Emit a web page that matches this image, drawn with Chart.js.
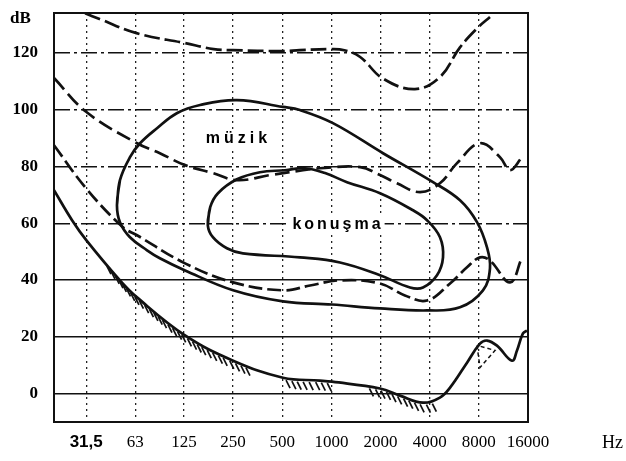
<!DOCTYPE html>
<html lang="tr">
<head>
<meta charset="UTF-8">
<title>İşitme alanı</title>
<script src="https://cdn.jsdelivr.net/npm/chart.js@4.4.1/dist/chart.umd.min.js"></script>
<style>
  html, body { margin: 0; padding: 0; background: #fff; }
  #kutu { width: 626px; height: 461px; }
</style>
</head>
<body>
<div id="kutu"><canvas id="grafik"></canvas></div>
<script>
// eksenler
const frekanslar = [31.5, 63, 125, 250, 500, 1000, 2000, 4000, 8000, 16000];
const frekansEtiketleri = ['31,5', '63', '125', '250', '500', '1000', '2000', '4000', '8000', '16000'];
const seviyeler = [0, 20, 40, 60, 80, 100, 120];

// ağrı eşiği (üstteki kesikli eğri)
const agriHz = [31, 38, 64, 127, 190, 250, 500, 640, 1000, 1200, 1500, 2070, 3250, 4620, 6130, 7900, 9360];
const agriDb = [134, 132, 127, 123.5, 121.4, 121, 120.7, 121, 121.4, 121, 118.6, 111, 107.3, 111.5, 122, 129, 132.7];

// üst eş ses eğrisi (kesikli)
const ustHz = [20, 31.6, 64.5, 89, 127, 188, 264, 421, 670, 851, 1500, 1985, 2520, 3490, 4620, 5880, 8130, 10780, 12420, 14700];
const ustDb = [111.2, 99.2, 88.2, 84.7, 80.5, 77.7, 75.2, 77, 78.7, 79.4, 79.8, 77, 74.1, 71, 74.1, 81.2, 88.2, 83.3, 78.7, 83.3];

// alt eş ses eğrisi (kesikli)
const altHz = [20, 31.6, 52.9, 64.5, 127, 250, 505, 740, 1130, 1985, 2820, 3850, 5330, 6770, 8130, 9360, 12420, 14700];
const altDb = [87.5, 72.2, 58.6, 55.8, 45.9, 39.2, 36.4, 38.1, 39.9, 38.8, 34.6, 32.8, 38.8, 44.5, 48, 46.9, 39.2, 48];

// işitme eşiği (taralı düz eğri)
const esikHz = [20, 25.8, 31.6, 50.7, 64.5, 127, 250, 505, 851, 1009, 1985, 2630, 3640, 4620, 5330, 6770, 8130, 8980, 10330, 12770, 13700, 14900, 15780];
const esikDb = [71.7, 61.1, 54, 39.9, 33.9, 20.5, 11.6, 5.6, 4.6, 4.2, 1.8, -0.7, -3.2, -1.4, 2.1, 10.9, 17.6, 18.7, 16.9, 11.6, 15.2, 21.2, 22.2];

// müzik alanı (kapalı eğri)
const muzikHz = [48.6, 50.7, 58.4, 67.3, 85.5, 113, 157, 264, 505, 642, 1022, 2071, 4192, 6133, 7794, 8976, 9360, 8480, 6133, 3852, 1985, 1009, 505, 250, 127, 89, 74.3, 58.4, 50.7];
const muzikDb = [66.4, 75.2, 83.3, 88.2, 93.5, 98.8, 101.7, 103.4, 101, 99.9, 95.3, 84.7, 74.5, 68.1, 60.4, 51.5, 44.1, 36.4, 30.4, 29.3, 30, 31.4, 32.5, 36.4, 43.4, 47.7, 50.5, 55.1, 60.4];

// konuşma alanı (kapalı eğri)
const konusmaHz = [175, 181, 202, 264, 365, 520, 689, 914, 1246, 1985, 3160, 3852, 4624, 4826, 4433, 3640, 3030, 1985, 1129, 642, 287, 229, 188];
const konusmaDb = [59.3, 65.7, 70.6, 75.5, 78, 78.7, 79.4, 77.7, 74.5, 70.6, 64.6, 61.1, 55.1, 48, 41.7, 37.4, 37.4, 41.7, 46.2, 48, 49.4, 51.2, 55.1];

// 8000 Hz civarındaki küçük taralı üçgen
const ucgenHz = [7794, 8130, 10050, 7794];
const ucgenDb = [17, 9.2, 15.2, 17];

// eşik eğrisinin altındaki taramanın frekans aralıkları
const taramaAraliklari = [[41, 300], [480, 1000], [1650, 4100]];

// alan etiketleri (Hz, dB)
const yazilar = [
  { metin: 'müzik', hz: 262, db: 89.8, aralik: '4px' },
  { metin: 'konuşma', hz: 1067, db: 59.6, aralik: '3px' }
];

function noktalar(hz, db) {
  return hz.map((f, i) => ({ x: f, y: db[i] }));
}

// kapalı eğrilerde başlangıçta kırılma olmasın diye ilk iki nokta sona eklenir
function kapali(hz, db) {
  const p = noktalar(hz, db);
  return p.concat(p.slice(0, 2));
}

const KALEM = '#111';

function egri(data, kesik, kalinlik) {
  return {
    data: data,
    showLine: true,
    borderColor: KALEM,
    borderWidth: kalinlik || 2.7,
    borderDash: kesik || [],
    pointRadius: 0,
    tension: 0.4,
    fill: false
  };
}

const veriSetleri = [
  egri(noktalar(agriHz, agriDb), [16, 5]),
  egri(noktalar(ustHz, ustDb), [15, 6]),
  egri(noktalar(altHz, altDb), [14, 5]),
  egri(noktalar(esikHz, esikDb)),
  egri(kapali(muzikHz, muzikDb)),
  egri(kapali(konusmaHz, konusmaDb)),
  Object.assign(egri(noktalar(ucgenHz, ucgenDb), [4, 3], 1.5), { tension: 0 })
];
const ESIK = 3;

// bezier parçası üzerinde nokta
function bezier(a, b, t) {
  const u = 1 - t;
  const c1x = a.cp2x !== undefined ? a.cp2x : a.x, c1y = a.cp2y !== undefined ? a.cp2y : a.y;
  const c2x = b.cp1x !== undefined ? b.cp1x : b.x, c2y = b.cp1y !== undefined ? b.cp1y : b.y;
  return {
    x: u*u*u*a.x + 3*u*u*t*c1x + 3*u*t*t*c2x + t*t*t*b.x,
    y: u*u*u*a.y + 3*u*u*t*c1y + 3*u*t*t*c2y + t*t*t*b.y
  };
}

const taramaEklentisi = {
  id: 'tarama',
  afterDatasetsDraw(chart) {
    const pts = chart.getDatasetMeta(ESIK).data;
    const xs = chart.scales.x;
    const ctx = chart.ctx;
    ctx.save();
    ctx.strokeStyle = KALEM;
    ctx.lineWidth = 1.7;
    let yol = 0, sonraki = 0;
    for (let i = 1; i < pts.length; i++) {
      let onceki = { x: pts[i - 1].x, y: pts[i - 1].y };
      for (let s = 1; s <= 40; s++) {
        const p = bezier(pts[i - 1], pts[i], s / 40);
        yol += Math.hypot(p.x - onceki.x, p.y - onceki.y);
        onceki = p;
        if (yol >= sonraki) {
          sonraki += 6;
          const f = xs.getValueForPixel(p.x);
          if (taramaAraliklari.some(r => f >= r[0] && f <= r[1])) {
            ctx.beginPath();
            ctx.moveTo(p.x + 1, p.y + 2);
            ctx.lineTo(p.x + 5, p.y + 10);
            ctx.stroke();
          }
        }
      }
    }
    ctx.restore();
  }
};

const cerceveEklentisi = {
  id: 'cerceve',
  beforeDatasetsDraw(chart) {
    const a = chart.chartArea;
    const ctx = chart.ctx;
    ctx.save();
    ctx.strokeStyle = KALEM;
    ctx.lineWidth = 2;
    ctx.strokeRect(a.left, a.top, a.right - a.left, a.bottom - a.top);
    ctx.restore();
  },
  afterDraw(chart) {
    const ctx = chart.ctx;
    const a = chart.chartArea;
    ctx.save();
    ctx.fillStyle = '#000';
    ctx.textBaseline = 'middle';
    ctx.font = 'bold 17px "Liberation Serif"';
    ctx.textAlign = 'left';
    ctx.fillText('dB', 10, 19);
    ctx.font = '18px "Liberation Serif"';
    ctx.fillText('Hz', a.right + 74, 443);

    ctx.font = 'bold 16px "Liberation Sans"';
    ctx.textAlign = 'center';
    yazilar.forEach(y => {
      ctx.letterSpacing = y.aralik;
      const x = chart.scales.x.getPixelForValue(y.hz);
      const yy = chart.scales.y.getPixelForValue(y.db);
      const w = ctx.measureText(y.metin).width;
      ctx.fillStyle = '#fff';
      ctx.fillRect(x - w / 2 - 3, yy - 9, w + 6, 18);
      ctx.fillStyle = '#000';
      ctx.fillText(y.metin, x + 2, yy);
    });
    ctx.restore();
  }
};

new Chart(document.getElementById('grafik'), {
  type: 'scatter',
  data: { datasets: veriSetleri },
  options: {
    responsive: true,
    maintainAspectRatio: false,
    animation: false,
    layout: { padding: { top: 13, right: 98, bottom: 0, left: 0 } },
    plugins: { legend: { display: false }, tooltip: { enabled: false } },
    scales: {
      x: {
        type: 'logarithmic',
        min: 20,
        max: 16000,
        afterBuildTicks: (s) => { s.ticks = frekanslar.map(v => ({ value: v })); },
        afterFit: (s) => { s.height = 39; },
        grid: { color: '#222', lineWidth: 1.3, drawTicks: false },
        border: { display: false, dash: [2, 4] },
        ticks: {
          autoSkip: false,
          maxRotation: 0,
          padding: 10,
          color: '#000',
          callback: (v, i) => frekansEtiketleri[i],
          font: (c) => c.index === 0
            ? { family: '"Liberation Sans"', size: 17, weight: 'bold' }
            : { family: '"Liberation Serif"', size: 17 }
        }
      },
      y: {
        min: -10,
        max: 134.1,
        afterBuildTicks: (s) => { s.ticks = seviyeler.map(v => ({ value: v })); },
        // etiket boşluğu dikey kenar payına eklenmesin
        afterFit: (s) => { s.width = 54; s.paddingTop = 0; s.paddingBottom = 0; },
        grid: { color: '#111', lineWidth: 1.6, drawTicks: false },
        border: {
          display: false,
          dash: (c) => (c.tick && c.tick.value >= 60) ? [16, 4, 3, 4] : []
        },
        ticks: {
          padding: 16,
          color: '#000',
          font: { family: '"Liberation Serif"', size: 17, weight: 'bold' }
        }
      }
    }
  },
  plugins: [taramaEklentisi, cerceveEklentisi]
});
</script>
</body>
</html>
